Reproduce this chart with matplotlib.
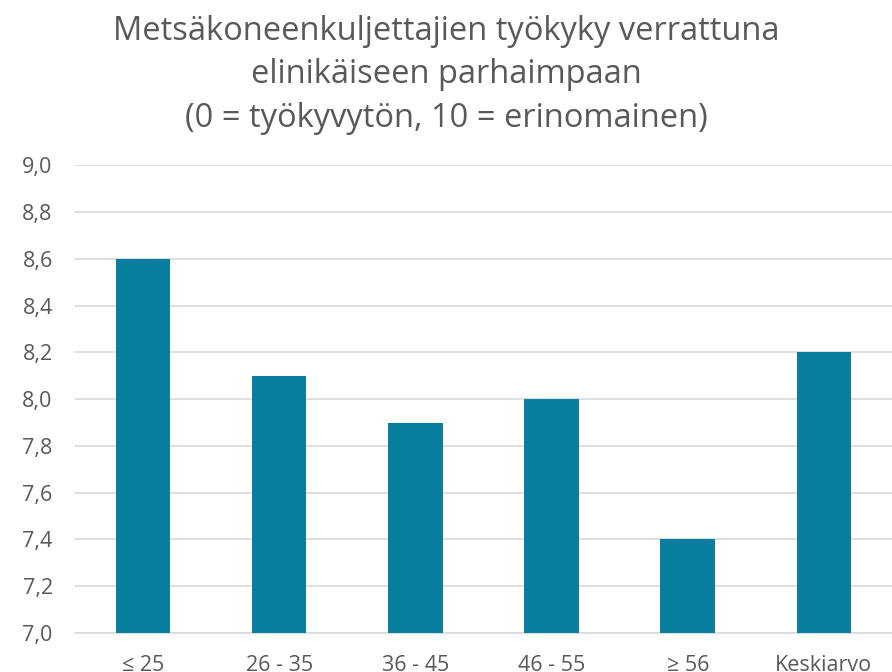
import matplotlib
matplotlib.use("Agg")
from matplotlib import pyplot
from matplotlib.ticker import FuncFormatter

# data
categories = ['≤ 25', '26 - 35', '36 - 45', '46 - 55', '≥ 56', 'Keskiarvo']
values = [8.6, 8.1, 7.9, 8.0, 7.4, 8.2]
yticks = [7.0, 7.2, 7.4, 7.6, 7.8, 8.0, 8.2, 8.4, 8.6, 8.8, 9.0]

title = 'Metsäkoneenkuljettajien työkyky verrattuna\nelinikäiseen parhaimpaan\n(0 = työkyvytön, 10 = erinomainen)'

BAR = '#0a7e9e'
TEXT = '#595959'
GRID = '#d9d9d9'

pyplot.rcParams['font.family'] = ['Open Sans', 'DejaVu Sans']

fig = pyplot.figure(figsize=(8.92, 6.72), dpi=100)
ax = fig.add_axes([0.084, 0.058, 0.916, 0.696])

x = range(len(categories))
ax.bar(x, [v - 7.0 for v in values], bottom=7.0, width=0.4, color=BAR, zorder=3)

ax.set_xlim(-0.5, len(categories) - 0.5)
ax.set_ylim(7.0, 9.0)
ax.set_yticks(yticks)
ax.yaxis.set_major_formatter(FuncFormatter(lambda v, p: ('%.1f' % v).replace('.', ',')))
ax.set_xticks(list(x))
ax.set_xticklabels(categories)

# gridlines
ax.grid(axis='y', color=GRID, linewidth=1.2, zorder=0)
for s in ['top', 'right', 'left']:
	ax.spines[s].set_visible(False)
ax.spines['bottom'].set_color(GRID)
ax.spines['bottom'].set_linewidth(1.2)

ax.tick_params(axis='both', length=0, labelsize=15.5, labelcolor=TEXT)
ax.tick_params(axis='y', pad=16)
ax.tick_params(axis='x', pad=16)

fig.text(0.5, 0.978, title, ha='center', va='top', fontsize=23.5, color=TEXT, linespacing=1.42)

fig.savefig('out.png', dpi=100)
